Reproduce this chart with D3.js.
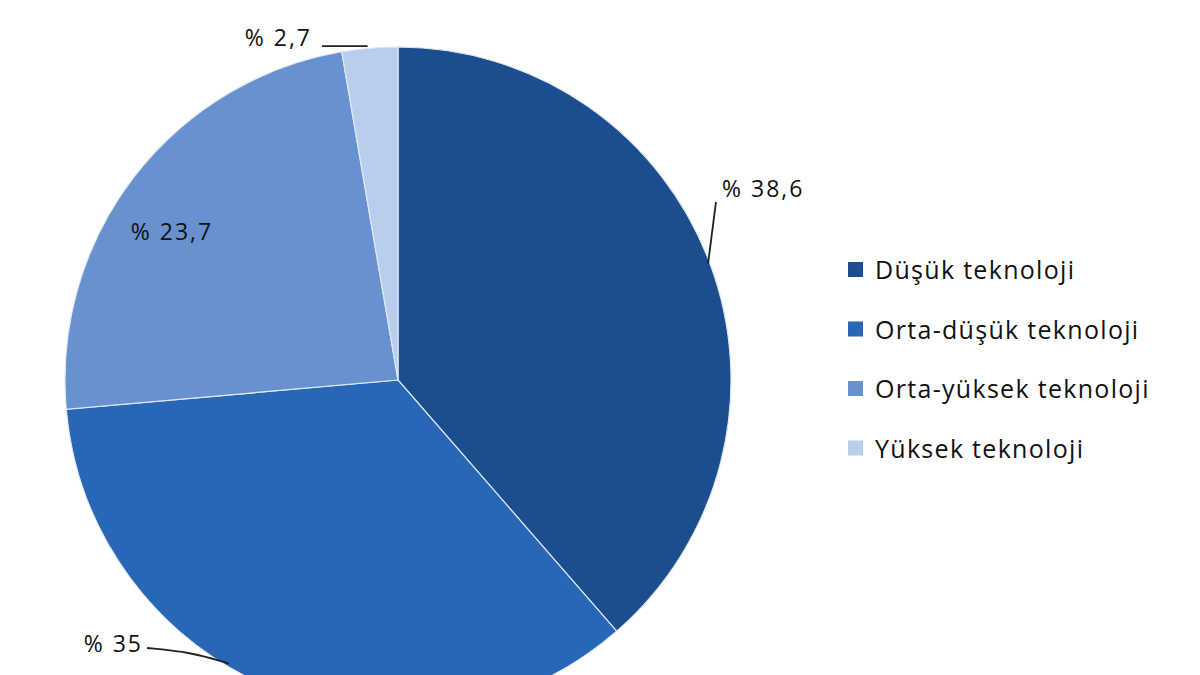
<!DOCTYPE html>
<html lang="tr">
	<head>
		<meta charset="utf-8">
		<title>Teknoloji düzeyi</title>
		<script type="text/javascript" src="https://cdn.jsdelivr.net/npm/d3@7"></script>
		<style type="text/css">
			body { margin: 0; background: #fff; }
		</style>
	</head>
	<body>
		<script type="text/javascript">

			//Width and height
			var w = 1200;
			var h = 675;

			//Data
			var categories = ["Düşük teknoloji", "Orta-düşük teknoloji", "Orta-yüksek teknoloji", "Yüksek teknoloji"];
			var values = [38.6, 35, 23.7, 2.7];
			var labels = ["% 38,6", "% 35", "% 23,7", "% 2,7"];
			var colors = ["#1b4d8f", "#2767b6", "#6891d0", "#b9cdec"];

			var cx = 398, cy = 380, radius = 333;

			var svg = d3.select("body")
						.append("svg")
						.attr("width", w)
						.attr("height", h);

			var pie = d3.pie().sort(null).value(function(d) { return d; });
			var arcs = pie(values);

			var arc = d3.arc().innerRadius(0).outerRadius(radius);

			var g = svg.append("g")
				.attr("transform", "translate(" + cx + "," + cy + ")");

			g.selectAll("path")
				.data(arcs)
				.enter()
				.append("path")
				.attr("d", arc)
				.attr("fill", function(d, i) { return colors[i]; })
				.attr("stroke", "#dfe8f5")
				.attr("stroke-width", 1.2);

			//Point on the rim at a given fraction of a slice
			var rim = function(i, t, r) {
				var a = arcs[i].startAngle + (arcs[i].endAngle - arcs[i].startAngle) * t;
				return [r * Math.sin(a), -r * Math.cos(a)];
			};

			//Leader lines
			var p0 = rim(0, 0.5, radius - 2);
			var p1 = rim(1, 0.57, radius - 3);
			var p3 = rim(3, 0.5, radius + 2);

			var leaders = [
				[p0, [p0[0] + 8, p0[1] - 62]],
				[[147 - cx, 648 - cy], [190 - cx, 652 - cy], p1],
				[[322 - cx, p3[1]], [p3[0] - 2, p3[1]]]
			];

			g.selectAll(".leader")
				.data(leaders)
				.enter()
				.append("path")
				.attr("class", "leader")
				.attr("d", d3.line().curve(d3.curveBasis))
				.attr("fill", "none")
				.attr("stroke", "#222")
				.attr("stroke-width", 1.8);

			//Slice labels
			var labelPos = [
				[722 - cx, 197 - cy, "start"],
				[143 - cx, 652 - cy, "end"],
				[172 - cx, 240 - cy, "middle"],
				[312 - cx, 46 - cy, "end"]
			];

			g.selectAll(".lbl")
				.data(labels)
				.enter()
				.append("text")
				.attr("class", "lbl")
				.attr("x", function(d, i) { return labelPos[i][0]; })
				.attr("y", function(d, i) { return labelPos[i][1]; })
				.attr("text-anchor", function(d, i) { return labelPos[i][2]; })
				.attr("font-family", "Open Sans, sans-serif")
				.attr("font-size", "23px")
				.attr("letter-spacing", "2px")
				.attr("fill", "#111")
				.text(function(d) { return d; });

			//Legend
			var legend = svg.append("g")
				.attr("transform", "translate(848,270)");

			var rows = legend.selectAll("g")
				.data(categories)
				.enter()
				.append("g")
				.attr("transform", function(d, i) { return "translate(0," + (i * 59.5) + ")"; });

			rows.append("rect")
				.attr("x", 0)
				.attr("y", -8)
				.attr("width", 15)
				.attr("height", 15)
				.attr("fill", function(d, i) { return colors[i]; });

			rows.append("text")
				.attr("x", 27)
				.attr("y", 9)
				.attr("font-family", "Open Sans, sans-serif")
				.attr("font-size", "25px")
				.attr("letter-spacing", "1.3px")
				.attr("fill", "#111")
				.text(function(d) { return d; });

		</script>
	</body>
</html>
